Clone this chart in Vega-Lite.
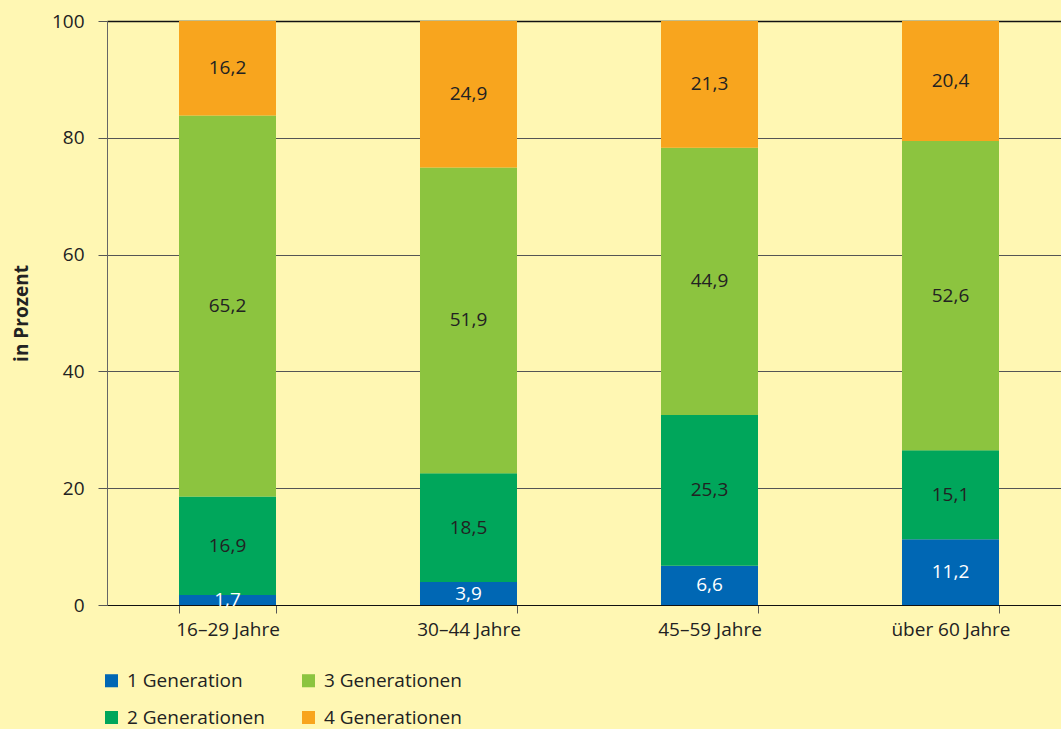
{
  "$schema": "https://vega.github.io/schema/vega-lite/v6.json",
  "width": 954,
  "height": 584,
  "autosize": {"type": "none"},
  "padding": {"left": 107, "top": 21, "right": 0, "bottom": 124},
  "background": "#FFF7B3",
  "config": {
    "view": {"stroke": null},
    "font": "Open Sans",
    "locale": {"number": {"decimal": ",", "thousands": ".", "grouping": [3], "currency": ["", " €"]}}
  },
  "data": {
    "values": [
      {"age": "16–29 Jahre", "gen": "1 Generation", "rank": 1, "value": 1.7},
      {"age": "16–29 Jahre", "gen": "2 Generationen", "rank": 2, "value": 16.9},
      {"age": "16–29 Jahre", "gen": "3 Generationen", "rank": 3, "value": 65.2},
      {"age": "16–29 Jahre", "gen": "4 Generationen", "rank": 4, "value": 16.2},
      {"age": "30–44 Jahre", "gen": "1 Generation", "rank": 1, "value": 3.9},
      {"age": "30–44 Jahre", "gen": "2 Generationen", "rank": 2, "value": 18.5},
      {"age": "30–44 Jahre", "gen": "3 Generationen", "rank": 3, "value": 51.9},
      {"age": "30–44 Jahre", "gen": "4 Generationen", "rank": 4, "value": 24.9},
      {"age": "45–59 Jahre", "gen": "1 Generation", "rank": 1, "value": 6.6},
      {"age": "45–59 Jahre", "gen": "2 Generationen", "rank": 2, "value": 25.3},
      {"age": "45–59 Jahre", "gen": "3 Generationen", "rank": 3, "value": 44.9},
      {"age": "45–59 Jahre", "gen": "4 Generationen", "rank": 4, "value": 21.3},
      {"age": "über 60 Jahre", "gen": "1 Generation", "rank": 1, "value": 11.2},
      {"age": "über 60 Jahre", "gen": "2 Generationen", "rank": 2, "value": 15.1},
      {"age": "über 60 Jahre", "gen": "3 Generationen", "rank": 3, "value": 52.6},
      {"age": "über 60 Jahre", "gen": "4 Generationen", "rank": 4, "value": 20.4}
    ]
  },
  "encoding": {
    "x": {
      "field": "age",
      "type": "nominal",
      "sort": null,
      "scale": {"range": [0, 964], "paddingInner": 0.5975, "paddingOuter": 0.29875},
      "axis": {
        "title": null,
        "labelAngle": 0,
        "labelFontSize": 19,
        "labelColor": "#222222",
        "labelPadding": 7,
        "tickBand": "extent",
        "tickSize": 8,
        "tickColor": "#555555",
        "domainColor": "#111111",
        "grid": false
      }
    },
    "y": {
      "field": "value",
      "type": "quantitative",
      "stack": "normalize",
      "scale": {"domain": [0, 1]},
      "axis": {
        "title": "in Prozent",
        "titleFontSize": 19,
        "titleFontWeight": "bold",
        "titleColor": "#222222",
        "titlePadding": 20,
        "values": [0, 0.2, 0.4, 0.6, 0.8, 1],
        "labelExpr": "format(datum.value * 100, 'd')",
        "labelFontSize": 19,
        "labelColor": "#222222",
        "labelPadding": 14,
        "tickSize": 9,
        "tickColor": "#555555",
        "domainColor": "#666666",
        "grid": true,
        "gridColor": {"condition": {"test": "datum.value === 1", "value": "#111111"}, "value": "#555555"},
        "gridWidth": {"condition": {"test": "datum.value === 1", "value": 1.5}, "value": 1}
      }
    },
    "order": {"field": "rank", "type": "quantitative"}
  },
  "layer": [
    {
      "mark": {"type": "bar"},
      "encoding": {
        "color": {
          "field": "gen",
          "type": "nominal",
          "scale": {
            "domain": ["1 Generation", "3 Generationen", "2 Generationen", "4 Generationen"],
            "range": ["#0067B4", "#8CC43F", "#00A65B", "#F8A51E"]
          },
          "legend": {
            "title": null,
            "orient": "none",
            "legendX": -5,
            "legendY": 650,
            "direction": "horizontal",
            "columns": 2,
            "columnPadding": 34,
            "rowPadding": 17,
            "symbolType": "square",
            "symbolSize": 170,
            "symbolStrokeWidth": 0,
            "labelFontSize": 19,
            "labelColor": "#222222",
            "labelOffset": 6
          }
        }
      }
    },
    {
      "mark": {"type": "text", "fontSize": 19},
      "encoding": {
        "y": {
          "field": "value",
          "type": "quantitative",
          "stack": "normalize",
          "bandPosition": 0.5
        },
        "text": {"field": "value", "type": "quantitative", "format": ".1f"},
        "color": {
          "condition": {"test": "datum.gen === '1 Generation'", "value": "#FFFFFF"},
          "value": "#222222"
        }
      }
    }
  ]
}
